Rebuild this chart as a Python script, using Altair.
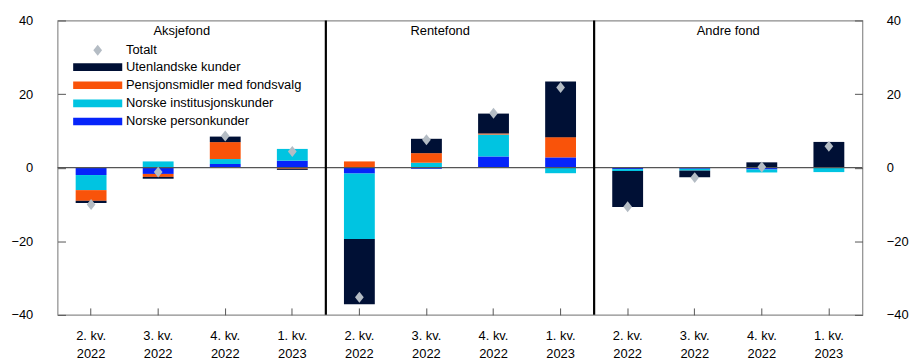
import altair as alt
import pandas as pd

# ---- data ----
panels = ["Aksjefond", "Rentefond", "Andre fond"]
quarters = ["2. kv.|2022", "3. kv.|2022", "4. kv.|2022", "1. kv.|2023"]
series = ["Utenlandske kunder", "Pensjonsmidler med fondsvalg",
          "Norske institusjonskunder", "Norske personkunder"]
colors = ["#001035", "#F9530A", "#00C4E1", "#0624FA"]

# values per panel, per quarter (same order as quarters)
personkunder = {
    "Aksjefond": [-2.0, -1.7, 1.0, 1.9],
    "Rentefond": [-1.6, -0.3, 3.05, 2.8],
    "Andre fond": [-0.4, -0.3, -0.5, 0.0],
}
institusjon = {
    "Aksjefond": [-4.1, 1.7, 1.35, 3.2],
    "Rentefond": [-17.8, 1.35, 5.95, -1.5],
    "Andre fond": [-0.5, -0.5, -0.8, -1.2],
}
pensjon = {
    "Aksjefond": [-2.9, -0.8, 4.6, -0.3],
    "Rentefond": [1.7, 2.6, 0.3, 5.5],
    "Andre fond": [0.0, 0.0, 0.0, 0.0],
}
utenlandske = {
    "Aksjefond": [-0.6, -0.5, 1.5, -0.3],
    "Rentefond": [-17.7, 3.9, 5.4, 15.1],
    "Andre fond": [-9.8, -1.8, 1.45, 7.0],
}
totalt = {
    "Aksjefond": [-10.0, -1.2, 8.6, 4.4],
    "Rentefond": [-35.2, 7.6, 14.8, 21.8],
    "Andre fond": [-10.6, -2.7, 0.2, 5.8],
}

# ---- build tables ----
cats = [f"{p}|{q}" for p in panels for q in quarters]
rows = []
for p in panels:
    for i, q in enumerate(quarters):
        c = f"{p}|{q}"
        rows.append({"cat": c, "serie": series[3], "ord": 1, "v": personkunder[p][i]})
        rows.append({"cat": c, "serie": series[2], "ord": 2, "v": institusjon[p][i]})
        rows.append({"cat": c, "serie": series[1], "ord": 3, "v": pensjon[p][i]})
        rows.append({"cat": c, "serie": series[0], "ord": 4, "v": utenlandske[p][i]})
bars_df = pd.DataFrame(rows)
tot_df = pd.DataFrame([{"cat": f"{p}|{q}", "lab": "Totalt", "v": totalt[p][i]}
                       for p in panels for i, q in enumerate(quarters)])
sep_df = pd.DataFrame({"cat": [cats[3], cats[7]]})

FONT = "Liberation Sans"
W, H = 812, 297
diamond = "M0,-1L0.8,0L0,1L-0.8,0Z"
rect_sym = "M-4.5,-0.7H4.5V0.7H-4.5Z"

xscale = alt.Scale(domain=cats, paddingInner=0, paddingOuter=0)
xaxis = alt.Axis(title=None, labelExpr="slice(split(datum.label, '|'), 1)",
                 labelAngle=0, labelOverlap=False, offset=-7, tickSize=7,
                 labelPadding=15, labelLineHeight=18, domain=False,
                 tickColor="#555555", labelFontSize=13, labelFont=FONT,
                 labelColor="#000000")
yscale = alt.Scale(domain=[-40, 40], nice=False, zero=False)

bars = alt.Chart(bars_df).mark_bar(width={"band": 0.46}).encode(
    x=alt.X("cat:N", scale=xscale, axis=xaxis),
    y=alt.Y("v:Q", scale=yscale, stack="zero",
            axis=alt.Axis(orient="left", values=[-40, -20, 0, 20, 40], title=None,
                          offset=-8, tickSize=8, labelPadding=25, domain=False,
                          grid=False, tickColor="#555555", labelFontSize=13,
                          labelFont=FONT, labelColor="#000000")),
    color=alt.Color("serie:N", scale=alt.Scale(domain=series, range=colors),
                    legend=alt.Legend(title=None, orient="none", legendX=34, legendY=40.5,
                                      symbolType=rect_sym, symbolSize=121,
                                      symbolStrokeWidth=0, labelOffset=22,
                                      labelFontSize=13, labelFont=FONT, labelLimit=0,
                                      rowPadding=4.3, padding=0)),
    order=alt.Order("ord:Q"),
)

zero = alt.Chart(pd.DataFrame({"z": [0]})).mark_rule(color="#555555", strokeWidth=1.3).encode(
    y=alt.Y("z:Q", scale=yscale,
            axis=alt.Axis(orient="right", values=[-40, -20, 0, 20, 40], title=None,
                          offset=-8, tickSize=8, labelPadding=24, domain=False,
                          grid=False, tickColor="#555555", labelFontSize=13,
                          labelFont=FONT, labelColor="#000000")),
)

points = alt.Chart(tot_df).mark_point(filled=True, size=121, fill="#B4BCC4",
                                      opacity=1, strokeWidth=0).encode(
    x=alt.X("cat:N", scale=xscale, axis=xaxis),
    y=alt.Y("v:Q", scale=yscale, axis=None),
    shape=alt.Shape("lab:N", scale=alt.Scale(domain=["Totalt"], range=[diamond]),
                    legend=alt.Legend(title=None, orient="none", legendX=34, legendY=23.5,
                                      symbolSize=121, symbolFillColor="#B4BCC4",
                                      symbolStrokeWidth=0, labelOffset=22,
                                      labelFontSize=13, labelFont=FONT, padding=0)),
)

seps = alt.Chart(sep_df).mark_rule(color="#000000", strokeWidth=2.2).encode(
    x=alt.X("cat:N", scale=xscale, axis=xaxis, bandPosition=1),
    y=alt.Y("lo:Q", scale=yscale, axis=None),
    y2="hi:Q",
).transform_calculate(lo="-40", hi="40")


def panel_title(name, cat, dx):
    return alt.Chart(pd.DataFrame({"cat": [cat], "name": [name]})).mark_text(
        fontSize=13, font=FONT, color="#000000", baseline="middle", dx=dx
    ).encode(
        x=alt.X("cat:N", scale=xscale, axis=xaxis, bandPosition=1),
        y=alt.Y("ty:Q", scale=yscale, axis=None),
        text="name:N",
    ).transform_calculate(ty="37.2")


t1 = panel_title(panels[0], cats[1], -10)
t2 = panel_title(panels[1], cats[5], -20)
t3 = panel_title(panels[2], cats[9], 0)

chart = alt.layer(bars, zero, points, seps, t1, t2, t3).resolve_scale(
    y="independent"
).properties(
    width=W, height=H,
    autosize=alt.AutoSizeParams(type="none"),
    padding={"left": 50, "top": 11, "right": 47, "bottom": 52},
).configure_view(stroke="#8C8C8C", strokeWidth=1.2)

chart.save("out.html", embed_options={"renderer": "svg", "actions": False})
